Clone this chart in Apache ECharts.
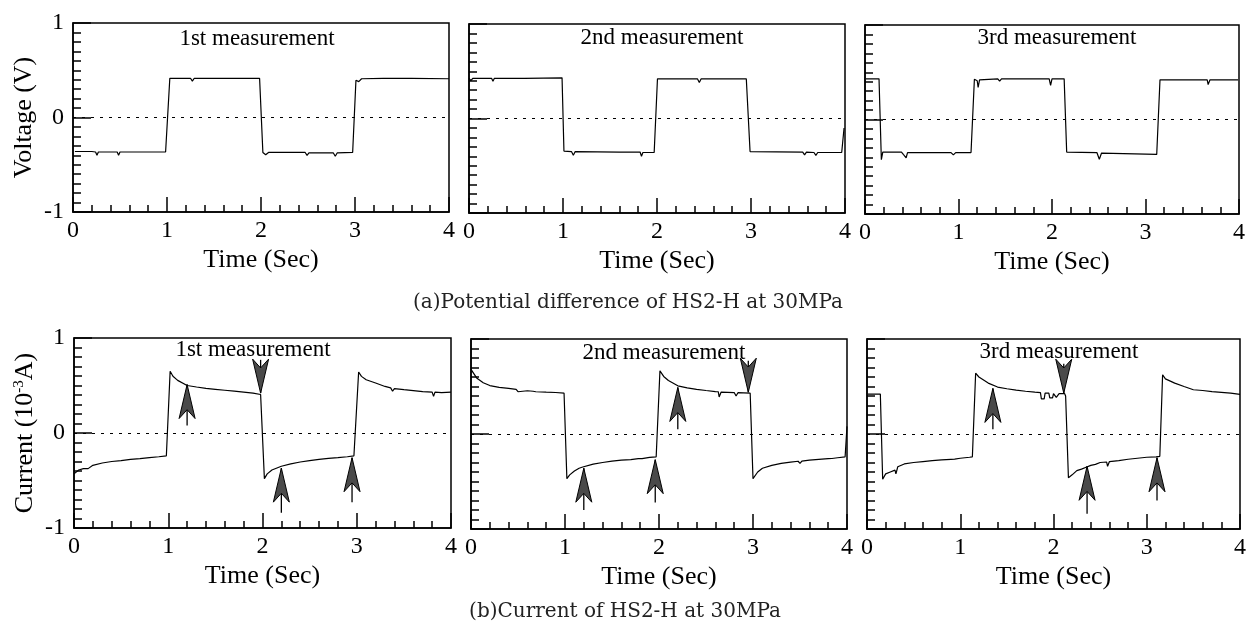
<!DOCTYPE html>
<html>
<head>
<meta charset="utf-8">
<script src="https://cdn.jsdelivr.net/npm/echarts@6/dist/echarts.min.js"></script>
<style>
html,body{margin:0;padding:0;background:#fff;}
#chart{width:1251px;height:628px;}
</style>
</head>
<body>
<div id="chart"></div>
<script>
// ---------- DATA ----------
const xTicks = [0, 1, 2, 3, 4];
const yTicks = [-1, 0, 1];
const panelTitles = ['1st measurement', '2nd measurement', '3rd measurement'];
const captionA = '(a)Potential difference of HS2-H at 30MPa';
const captionB = '(b)Current of HS2-H at 30MPa';

// Voltage (V) vs time (s)
const v1 = [[0.02,-0.36],[0.2,-0.36],[0.24,-0.365],[0.255,-0.40],[0.27,-0.365],[0.47,-0.365],[0.485,-0.40],[0.50,-0.365],[0.73,-0.365],[0.745,-0.385],[0.76,-0.365],[0.985,-0.365],[1.03,0.415],[1.25,0.415],[1.27,0.385],[1.29,0.415],[1.74,0.415],[1.76,0.40],[1.78,0.415],[1.87,0.415],[1.89,0.395],[1.91,0.415],[1.985,0.415],[2.02,-0.37],[2.05,-0.395],[2.08,-0.37],[2.47,-0.37],[2.49,-0.40],[2.51,-0.375],[2.66,-0.375],[2.68,-0.39],[2.70,-0.375],[2.77,-0.375],[2.79,-0.41],[2.81,-0.375],[2.975,-0.37],[3.01,0.395],[3.04,0.38],[3.07,0.41],[3.3,0.415],[3.6,0.415],[4.0,0.41]];
const v2 = [[0.0,0.425],[0.02,0.40],[0.04,0.425],[0.24,0.425],[0.255,0.395],[0.27,0.425],[0.59,0.425],[0.6,0.41],[0.61,0.425],[0.99,0.43],[1.01,-0.345],[1.09,-0.35],[1.11,-0.39],[1.13,-0.35],[1.6,-0.355],[1.62,-0.37],[1.64,-0.355],[1.82,-0.355],[1.835,-0.40],[1.85,-0.36],[1.97,-0.36],[2.005,0.42],[2.29,0.42],[2.31,0.405],[2.33,0.42],[2.43,0.42],[2.45,0.38],[2.47,0.42],[2.95,0.42],[2.99,-0.35],[3.55,-0.355],[3.57,-0.385],[3.59,-0.355],[3.67,-0.36],[3.69,-0.39],[3.71,-0.36],[3.965,-0.36],[3.99,-0.10]];
const v3 = [[0.01,0.43],[0.15,0.43],[0.175,-0.425],[0.19,-0.345],[0.39,-0.345],[0.41,-0.37],[0.425,-0.35],[0.44,-0.405],[0.455,-0.35],[0.92,-0.35],[0.945,-0.375],[0.97,-0.35],[1.134,-0.35],[1.17,0.425],[1.2,0.41],[1.21,0.34],[1.225,0.42],[1.42,0.43],[1.44,0.405],[1.46,0.43],[1.76,0.43],[1.78,0.41],[1.80,0.43],[1.97,0.43],[1.985,0.36],[2.0,0.43],[2.13,0.43],[2.157,-0.345],[2.48,-0.35],[2.506,-0.42],[2.53,-0.355],[3.12,-0.37],[3.155,0.42],[3.55,0.42],[3.565,0.40],[3.58,0.42],[3.66,0.42],[3.67,0.37],[3.69,0.42],[3.74,0.42],[3.75,0.40],[3.76,0.42],[3.99,0.42]];

// Current (10^-3 A) vs time (s)
const c1 = [[0.0,-0.43],[0.05,-0.39],[0.1,-0.375],[0.15,-0.375],[0.2,-0.34],[0.3,-0.316],[0.4,-0.30],[0.5,-0.29],[0.6,-0.277],[0.7,-0.27],[0.8,-0.26],[0.9,-0.25],[0.98,-0.24],[1.02,0.65],[1.05,0.597],[1.1,0.554],[1.2,0.50],[1.3,0.484],[1.4,0.47],[1.5,0.46],[1.6,0.45],[1.7,0.44],[1.8,0.43],[1.9,0.42],[1.98,0.405],[2.02,-0.48],[2.05,-0.43],[2.1,-0.39],[2.2,-0.35],[2.3,-0.325],[2.4,-0.305],[2.5,-0.29],[2.6,-0.277],[2.7,-0.267],[2.8,-0.26],[2.9,-0.25],[2.97,-0.24],[3.02,0.642],[3.05,0.596],[3.1,0.56],[3.2,0.526],[3.3,0.49],[3.36,0.475],[3.38,0.44],[3.40,0.467],[3.5,0.456],[3.6,0.446],[3.7,0.435],[3.8,0.43],[3.815,0.385],[3.83,0.43],[3.9,0.425],[4.0,0.43]];
const c2 = [[0.0,0.68],[0.06,0.59],[0.13,0.54],[0.2,0.51],[0.3,0.49],[0.4,0.48],[0.48,0.47],[0.5,0.445],[0.52,0.465],[0.6,0.455],[0.66,0.45],[0.675,0.43],[0.69,0.445],[0.8,0.44],[0.9,0.437],[0.99,0.43],[1.02,-0.47],[1.05,-0.43],[1.1,-0.39],[1.15,-0.36],[1.18,-0.35],[1.19,-0.37],[1.2,-0.345],[1.3,-0.317],[1.4,-0.30],[1.5,-0.285],[1.6,-0.275],[1.7,-0.27],[1.78,-0.26],[1.8,-0.275],[1.82,-0.26],[1.9,-0.246],[1.97,-0.24],[2.01,0.665],[2.05,0.606],[2.1,0.563],[2.2,0.507],[2.3,0.486],[2.4,0.47],[2.5,0.458],[2.6,0.447],[2.63,0.445],[2.64,0.39],[2.66,0.44],[2.8,0.436],[2.82,0.40],[2.84,0.435],[2.9,0.433],[2.97,0.43],[3.0,-0.47],[3.05,-0.40],[3.1,-0.36],[3.2,-0.33],[3.3,-0.31],[3.4,-0.296],[3.48,-0.287],[3.5,-0.31],[3.52,-0.285],[3.6,-0.275],[3.7,-0.267],[3.8,-0.26],[3.82,-0.28],[3.84,-0.258],[3.9,-0.25],[3.98,-0.24],[4.0,0.08]];
const c3 = [[0.01,0.42],[0.143,0.42],[0.168,-0.476],[0.2,-0.42],[0.25,-0.40],[0.3,-0.38],[0.31,-0.42],[0.33,-0.345],[0.4,-0.315],[0.5,-0.30],[0.6,-0.29],[0.7,-0.28],[0.8,-0.273],[0.9,-0.267],[0.92,-0.28],[0.94,-0.265],[1.0,-0.255],[1.1,-0.245],[1.13,-0.24],[1.165,0.64],[1.2,0.60],[1.3,0.536],[1.4,0.494],[1.5,0.476],[1.6,0.462],[1.7,0.45],[1.8,0.44],[1.86,0.435],[1.87,0.37],[1.9,0.37],[1.91,0.43],[1.95,0.43],[1.96,0.38],[1.99,0.38],[2.0,0.425],[2.02,0.425],[2.03,0.385],[2.05,0.385],[2.06,0.424],[2.12,0.424],[2.13,0.40],[2.16,-0.46],[2.2,-0.43],[2.25,-0.385],[2.3,-0.37],[2.35,-0.35],[2.4,-0.33],[2.45,-0.32],[2.47,-0.335],[2.5,-0.30],[2.57,-0.295],[2.58,-0.34],[2.6,-0.29],[2.7,-0.28],[2.8,-0.266],[2.9,-0.255],[3.0,-0.245],[3.1,-0.24],[3.14,-0.235],[3.17,0.624],[3.2,0.58],[3.3,0.536],[3.4,0.50],[3.5,0.466],[3.6,0.458],[3.7,0.446],[3.8,0.438],[3.9,0.43],[4.0,0.417]];

// Arrows: [time, tip value, tail value]
const arrows1 = [[1.2,0.51,0.08],[1.98,0.42,0.77],[2.2,-0.37,-0.84],[2.95,-0.26,-0.73]];
const arrows2 = [[1.2,-0.36,-0.80],[1.96,-0.27,-0.72],[2.2,0.49,0.05],[2.95,0.44,0.77]];
const arrows3 = [[1.35,0.48,0.05],[2.11,0.43,0.74],[2.36,-0.34,-0.84],[3.11,-0.25,-0.70]];

// ---------- LAYOUT ----------
const FONT = 'Liberation Serif';
const grids = [
  {left:73, top:23, width:376, height:189},
  {left:469, top:24, width:376, height:189},
  {left:865, top:25, width:374, height:189},
  {left:74, top:338, width:377, height:190},
  {left:471, top:339, width:376, height:190},
  {left:867, top:339, width:373, height:190}
];
const lineData = [v1, v2, v3, c1, c2, c3];
const arrowData = [null, null, null, arrows1, arrows2, arrows3];
const titlePos = [[257,39],[662,38],[1057,38],[253,350],[664,353],[1059,352]];

const black = '#000';
const xAxes = [], yAxes = [], series = [], graphics = [];

grids.forEach((g, i) => {
  g.show = true; g.borderColor = black; g.borderWidth = 1.5;
  const col = i % 3, row = Math.floor(i / 3);
  xAxes.push({
    gridIndex: i, type: 'value', min: xTicks[0], max: xTicks[xTicks.length-1], interval: 1,
    axisLine: {show: true, onZero: false, lineStyle: {color: black, width: 1.5}},
    axisTick: {show: true, inside: true, length: 15, lineStyle: {color: black, width: 1.5}},
    minorTick: {show: true, splitNumber: 5, length: 7, lineStyle: {color: black, width: 1.5}},
    splitLine: {show: false},
    axisLabel: {fontFamily: FONT, fontSize: 24, color: black, margin: 7},
    name: 'Time (Sec)', nameLocation: 'middle', nameGap: 35,
    nameTextStyle: {fontFamily: FONT, fontSize: 26, color: black}
  });
  const yName = col === 0 ? (row === 0 ? 'Voltage (V)' : 'Current (10{sup|-3}A)') : '';
  yAxes.push({
    gridIndex: i, type: 'value', min: yTicks[0], max: yTicks[yTicks.length-1], interval: 1,
    axisLine: {show: true, onZero: false, lineStyle: {color: black, width: 1.5}},
    axisTick: {show: true, inside: true, length: 18, lineStyle: {color: black, width: 1.5}},
    minorTick: {show: true, splitNumber: 10, length: 8, lineStyle: {color: black, width: 1.5}},
    splitLine: {show: false},
    axisLabel: {show: col === 0, fontFamily: FONT, fontSize: 24, color: black, margin: 9, padding: [0,0,7,0]},
    name: yName, nameLocation: 'middle', nameGap: 36,
    nameTextStyle: {fontFamily: FONT, fontSize: 26, color: black,
      rich: {sup: {fontFamily: FONT, fontSize: 15, color: black, verticalAlign: 'top'}}}
  });
  series.push({
    type: 'line', xAxisIndex: i, yAxisIndex: i, data: lineData[i],
    showSymbol: false, symbol: 'none', silent: true,
    lineStyle: {color: black, width: 1.2}, z: 3,
    markLine: {silent: true, symbol: ['none','none'], label: {show: false},
      lineStyle: {color: black, width: 1, type: [3, 6]}, data: [{yAxis: 0}]}
  });
  if (arrowData[i]) {
    series.push({
      type: 'custom', xAxisIndex: i, yAxisIndex: i, data: arrowData[i], silent: true, z: 4,
      encode: {x: 0, y: [1, 2]},
      renderItem: function (params, api) {
        const t = api.value(0), tip = api.value(1), tail = api.value(2);
        const p = api.coord([t, tip]), q = api.coord([t, tail]);
        const dir = q[1] > p[1] ? 1 : -1;
        const L = 34, W = 8;
        return {type: 'group', children: [
          {type: 'line', shape: {x1: p[0], y1: p[1], x2: q[0], y2: q[1]}, style: {stroke: black, lineWidth: 1.3}},
          {type: 'polygon', shape: {points: [[p[0], p[1]], [p[0]-W, p[1]+dir*L], [p[0], p[1]+dir*L*0.74], [p[0]+W, p[1]+dir*L]]},
            style: {fill: '#4a4a4a', stroke: black, lineWidth: 1}}
        ]};
      }
    });
  }
  graphics.push({type: 'text', x: titlePos[i][0], y: titlePos[i][1], z: 10,
    style: {text: panelTitles[col], font: '23px "' + FONT + '"', fill: black, textAlign: 'center', textVerticalAlign: 'middle'}});
});

graphics.push({type: 'text', x: 628, y: 303, style: {text: captionA, font: '20px "DejaVu Serif"', fill: '#222', textAlign: 'center', textVerticalAlign: 'middle'}});
graphics.push({type: 'text', x: 625, y: 612, style: {text: captionB, font: '20px "DejaVu Serif"', fill: '#222', textAlign: 'center', textVerticalAlign: 'middle'}});

const chart = echarts.init(document.getElementById('chart'), null, {renderer: 'canvas'});
chart.setOption({
  animation: false,
  backgroundColor: '#fff',
  grid: grids, xAxis: xAxes, yAxis: yAxes, series: series, graphic: graphics
});
</script>
</body>
</html>
